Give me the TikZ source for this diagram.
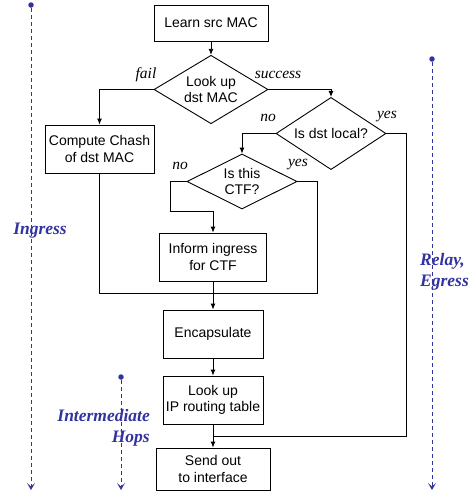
\documentclass[tikz,border=0pt]{standalone}
\usepackage{fontspec}
\setmainfont{Liberation Sans}
\newfontfamily\tnr{Liberation Serif}
\usepackage{xcolor}
\definecolor{hopblue}{RGB}{51,51,160}
\usetikzlibrary{positioning,arrows.meta,shapes.geometric}

\begin{document}
\begin{tikzpicture}[
x=1pt, y=-1pt,
box/.style={draw, line width=0.9pt, minimum height=48pt, align=center, inner sep=2pt, font=\fontsize{14}{16.5}\selectfont},
decision/.style={diamond, draw, line width=0.9pt, align=center, inner sep=-3pt, minimum width=110pt, minimum height=55pt, font=\fontsize{14}{16.5}\selectfont},
arrow/.style={-{Latex[length=6pt,width=5pt]}, line width=0.9pt},
link/.style={line width=0.9pt},
branch/.style={inner sep=0pt, font=\tnr\itshape\fontsize{15.5}{18}\selectfont},
phase/.style={hopblue, line width=0.9pt, dash pattern=on 4pt off 3pt, -{Stealth[length=7pt,width=8pt,inset=3.5pt]}},
phaselabel/.style={hopblue, inner sep=0pt, font=\tnr\bfseries\itshape\fontsize{17.5}{21.5}\selectfont},
dot/.style={circle, fill=hopblue, inner sep=0pt, minimum size=5.5pt}
]
\useasboundingbox (0,0) rectangle (475,491);

% flow chart
\node[box, minimum width=114pt, minimum height=36pt] (learn) at (211,23) {Learn src MAC};
\node[decision, minimum width=114pt, minimum height=57pt] (lookup) at (211,89.5) {Look up\\dst MAC};
\node[box, minimum width=109pt] (chash) at (99.5,149) {Compute Chash\\of dst MAC};
\node[decision, minimum height=53pt] (local) at (331,133.5) {Is dst local?};
\node[decision] (ctf) at (242,181.5) {Is this\\CTF?};
\node[box, minimum width=107pt] (inform) at (213,257) {Inform ingress\\for CTF};
\node[box, minimum width=100pt] (encap) at (213,334) {Encapsulate};
\node[box, minimum width=100pt] (iproute) at (213,400) {Look up\\IP routing table};
\node[box, minimum width=114pt, minimum height=42pt] (sendout) at (213,469) {Send out\\to interface};

\coordinate (merge) at (213,293);
\coordinate (egressjoin) at (213,436);

% branch labels
\node[branch] (failtxt) at (146,75) {fail};
\node[branch] (succtxt) at (278,75) {success};
\node[branch] (localno) at (268,118) {no};
\node[branch] (localyes) at (387,117) {yes};
\node[branch] (ctfno) at (180,166) {no};
\node[branch] (ctfyes) at (298,165) {yes};

% connectors
\draw[arrow] (learn) -- (lookup);
\draw[arrow] (lookup.west) -| (chash.north);
\draw[arrow] (lookup.east) -| (local.north);
\draw[arrow] (local.west) -| (ctf.north);
\draw[link] (local.east) -- ++(20,0) |- (egressjoin);
\draw[arrow] (ctf.west) -- ++(-16,0) -- ++(0,29.5) -| (inform.north);
\draw[link] (ctf.east) -- ++(20,0) |- (merge);
\draw[link] (chash.south) |- (merge);
\draw[link] (inform.south) -- (merge);
\draw[arrow] (merge) -- (encap.north);
\draw[arrow] (encap) -- (iproute);
\draw[arrow] (iproute) -- (sendout);

% phases
\node[dot] (ingtop) at (31,5) {};
\coordinate (ingend) at (31,490);
\draw[phase] (ingtop) -- (ingend);
\node[phaselabel] (ingtxt) at (40,231) {Ingress};

\node[dot] (hoptop) at (121,377) {};
\coordinate (hopend) at (121,490);
\draw[phase] (hoptop) -- (hopend);
\node[phaselabel, anchor=east, align=right] (hoptxt) at (150,428) {Intermediate\\Hops};

\node[dot] (reltop) at (432,59) {};
\coordinate (relend) at (432,490);
\draw[phase] (reltop) -- (relend);
\node[phaselabel, anchor=west, align=left] (reltxt) at (420,272) {Relay,\\Egress};
\end{tikzpicture}
\end{document}
